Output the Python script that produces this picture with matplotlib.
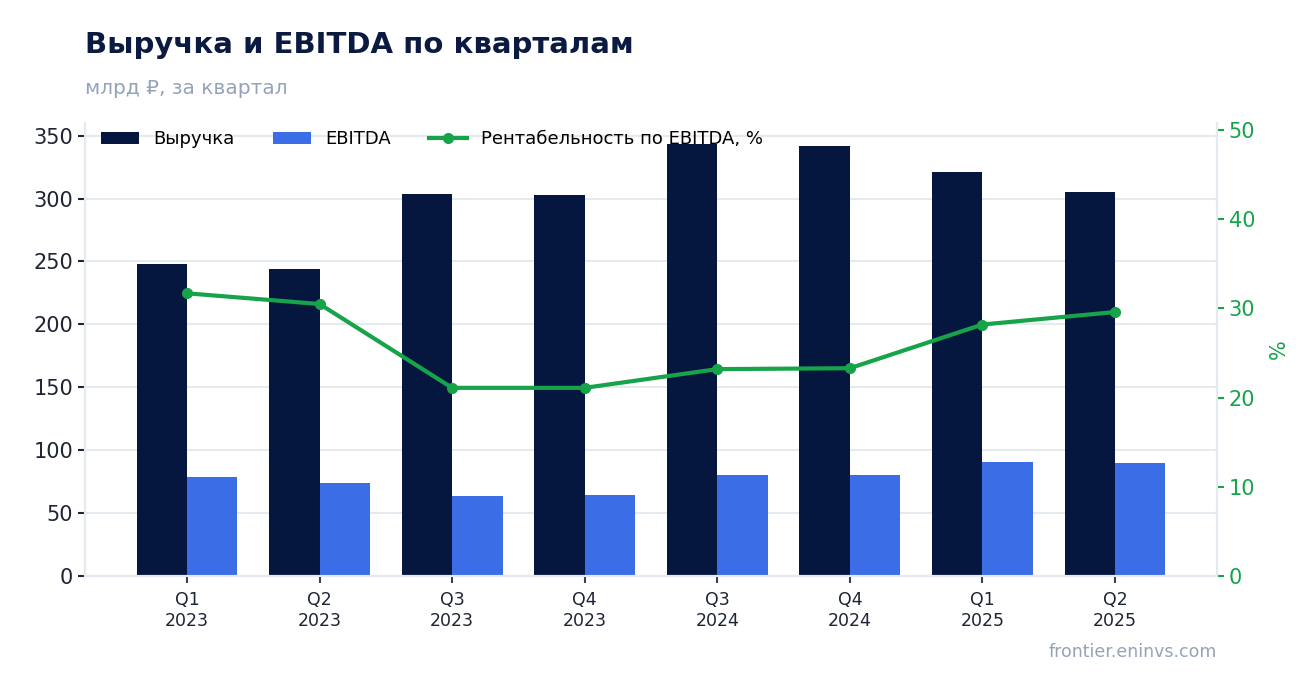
import matplotlib.pyplot as plt
import numpy as np

quarters = ["Q1\n2023", "Q2\n2023", "Q3\n2023", "Q4\n2023",
            "Q3\n2024", "Q4\n2024", "Q1\n2025", "Q2\n2025"]
revenue = [247.6, 243.6, 303.5, 302.7, 343.5, 341.9, 321.0, 305.0]
ebitda = [78.3, 74.3, 63.9, 64.0, 79.9, 80.0, 90.3, 89.5]
margin = [31.7, 30.5, 21.1, 21.1, 23.2, 23.3, 28.2, 29.6]

navy = "#05163f"
blue = "#3b6de6"
green = "#16a34a"
grid_c = "#e5e9f0"
gray = "#94a3b8"

x = np.arange(len(quarters))
w = 0.38

fig = plt.figure(figsize=(13.16, 6.93), dpi=100)
ax = fig.add_axes([85 / 1316, 1 - 576 / 693, 1132 / 1316, 453 / 693])

ax.bar(x - w / 2, revenue, w, color=navy, label="Выручка", zorder=2)
ax.bar(x + w / 2, ebitda, w, color=blue, label="EBITDA", zorder=2)
ax.set_xlim(-0.77, 7.77)
ax.set_ylim(0, 360)
ax.set_yticks(range(0, 351, 50))
ax.set_xticks(x)
ax.set_xticklabels(quarters, fontsize=12.5, color="#1e2435")
ax.tick_params(axis="y", labelsize=15, colors="#1e2435", length=5, width=1.5)
ax.tick_params(axis="x", length=5, width=1.5, color="#3a4050", pad=6)
ax.grid(axis="y", color=grid_c, lw=1.5, zorder=0)
ax.set_axisbelow(True)
ax.spines["top"].set_visible(False)
for s in ["left", "bottom", "right"]:
    ax.spines[s].set_color(grid_c)
    ax.spines[s].set_linewidth(1.5)

ax2 = ax.twinx()
ax2.plot(x, margin, color=green, lw=3, marker="o", ms=7,
         label="Рентабельность по EBITDA, %", zorder=3)
ax2.set_ylim(0, 50.8)
ax2.set_yticks(range(0, 51, 10))
ax2.tick_params(axis="y", labelsize=15, colors=green, length=5, width=1.5)
ax2.set_ylabel("%", color=green, fontsize=15, labelpad=10)
ax2.spines["top"].set_visible(False)
for s in ["left", "bottom", "right"]:
    ax2.spines[s].set_color(grid_c)
    ax2.spines[s].set_linewidth(1.5)

h1, l1 = ax.get_legend_handles_labels()
h2, l2 = ax2.get_legend_handles_labels()
leg = ax2.legend(h1 + h2, l1 + l2, loc="upper left", ncol=3, frameon=False,
                 fontsize=13, bbox_to_anchor=(0.0, 1.02),
                 handlelength=2.1, columnspacing=2.1)

fig.text(85 / 1316, 1 - 45 / 693, "Выручка и EBITDA по кварталам",
         fontsize=21, fontweight="bold", color="#0b1a40", va="center")
fig.text(85 / 1316, 1 - 88 / 693, "млрд ₽, за квартал",
         fontsize=14.5, color=gray, va="center")
fig.text(1217 / 1316, 1 - 652 / 693, "frontier.eninvs.com",
         fontsize=12.5, color=gray, va="center", ha="right")

fig.savefig("out.png", dpi=100)
